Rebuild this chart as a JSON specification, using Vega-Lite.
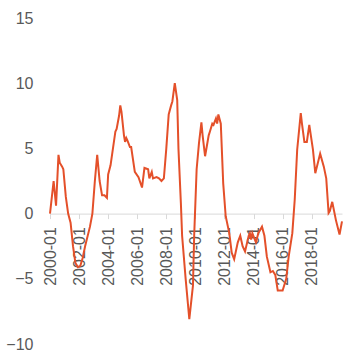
{
  "$schema": "https://vega.github.io/schema/vega-lite/v6.json",
  "autosize": {"type": "none"},
  "padding": {"left": 50, "top": 18, "right": 20, "bottom": 20},
  "width": 292,
  "height": 326,
  "background": "white",
  "config": {"view": {"stroke": null}, "font": "Liberation Sans"},
  "data": {"values": [
    {"date": "2000-01-01", "v": 0.0},
    {"date": "2000-04-01", "v": 2.5},
    {"date": "2000-06-01", "v": 0.6},
    {"date": "2000-08-01", "v": 4.5},
    {"date": "2000-09-01", "v": 3.9},
    {"date": "2000-11-01", "v": 3.6},
    {"date": "2000-12-01", "v": 3.4},
    {"date": "2001-02-01", "v": 1.3},
    {"date": "2001-04-01", "v": 0.0},
    {"date": "2001-06-01", "v": -0.7},
    {"date": "2001-08-01", "v": -2.5},
    {"date": "2001-10-01", "v": -3.8},
    {"date": "2001-12-01", "v": -4.1},
    {"date": "2002-02-01", "v": -4.0},
    {"date": "2002-04-01", "v": -3.4},
    {"date": "2002-06-01", "v": -2.5},
    {"date": "2002-10-01", "v": -1.0},
    {"date": "2002-12-01", "v": 0.0},
    {"date": "2003-02-01", "v": 2.5},
    {"date": "2003-04-01", "v": 4.5},
    {"date": "2003-06-01", "v": 2.5},
    {"date": "2003-08-01", "v": 1.4},
    {"date": "2003-10-01", "v": 1.4},
    {"date": "2003-12-01", "v": 1.2},
    {"date": "2004-01-01", "v": 3.0},
    {"date": "2004-03-01", "v": 3.7},
    {"date": "2004-05-01", "v": 5.0},
    {"date": "2004-07-01", "v": 6.3},
    {"date": "2004-08-01", "v": 6.5},
    {"date": "2004-10-01", "v": 7.5},
    {"date": "2004-11-01", "v": 8.3},
    {"date": "2004-12-01", "v": 7.8},
    {"date": "2005-02-01", "v": 6.0},
    {"date": "2005-03-01", "v": 5.5},
    {"date": "2005-04-01", "v": 5.8},
    {"date": "2005-05-01", "v": 5.6},
    {"date": "2005-07-01", "v": 5.1},
    {"date": "2005-08-01", "v": 5.1},
    {"date": "2005-11-01", "v": 3.2},
    {"date": "2006-02-01", "v": 2.8},
    {"date": "2006-05-01", "v": 2.0},
    {"date": "2006-07-01", "v": 3.5},
    {"date": "2006-10-01", "v": 3.4},
    {"date": "2006-11-01", "v": 2.7},
    {"date": "2007-01-01", "v": 3.2},
    {"date": "2007-02-01", "v": 2.7},
    {"date": "2007-05-01", "v": 2.8},
    {"date": "2007-07-01", "v": 2.7},
    {"date": "2007-09-01", "v": 2.5},
    {"date": "2007-11-01", "v": 2.7},
    {"date": "2008-01-01", "v": 5.0},
    {"date": "2008-03-01", "v": 7.6},
    {"date": "2008-05-01", "v": 8.3},
    {"date": "2008-06-01", "v": 8.6},
    {"date": "2008-08-01", "v": 10.0},
    {"date": "2008-10-01", "v": 8.7},
    {"date": "2008-11-01", "v": 5.0},
    {"date": "2009-01-01", "v": 0.8},
    {"date": "2009-02-01", "v": -1.7},
    {"date": "2009-05-01", "v": -5.0},
    {"date": "2009-08-01", "v": -8.1},
    {"date": "2009-11-01", "v": -5.5},
    {"date": "2009-12-01", "v": -1.7},
    {"date": "2010-02-01", "v": 3.4},
    {"date": "2010-04-01", "v": 5.4},
    {"date": "2010-06-01", "v": 7.0},
    {"date": "2010-07-01", "v": 6.0},
    {"date": "2010-09-01", "v": 4.4},
    {"date": "2010-12-01", "v": 6.0},
    {"date": "2011-01-01", "v": 6.3},
    {"date": "2011-03-01", "v": 6.9},
    {"date": "2011-04-01", "v": 6.8},
    {"date": "2011-06-01", "v": 7.3},
    {"date": "2011-07-01", "v": 6.9},
    {"date": "2011-08-01", "v": 7.6},
    {"date": "2011-10-01", "v": 6.9},
    {"date": "2011-12-01", "v": 2.3},
    {"date": "2012-02-01", "v": -0.2},
    {"date": "2012-05-01", "v": -1.5},
    {"date": "2012-07-01", "v": -3.0},
    {"date": "2012-09-01", "v": -3.5},
    {"date": "2012-12-01", "v": -2.2},
    {"date": "2013-02-01", "v": -1.7},
    {"date": "2013-04-01", "v": -2.5},
    {"date": "2013-06-01", "v": -2.9},
    {"date": "2013-09-01", "v": -1.7},
    {"date": "2013-10-01", "v": -1.5},
    {"date": "2013-11-01", "v": -2.0},
    {"date": "2013-12-01", "v": -1.5},
    {"date": "2014-03-01", "v": -2.2},
    {"date": "2014-05-01", "v": -1.5},
    {"date": "2014-08-01", "v": -1.0},
    {"date": "2014-10-01", "v": -1.7},
    {"date": "2014-12-01", "v": -3.3},
    {"date": "2015-03-01", "v": -4.5},
    {"date": "2015-05-01", "v": -4.4},
    {"date": "2015-07-01", "v": -4.7},
    {"date": "2015-09-01", "v": -5.9},
    {"date": "2016-01-01", "v": -5.9},
    {"date": "2016-04-01", "v": -5.0},
    {"date": "2016-06-01", "v": -3.3},
    {"date": "2016-09-01", "v": -1.5},
    {"date": "2016-11-01", "v": 1.1},
    {"date": "2017-01-01", "v": 4.9},
    {"date": "2017-04-01", "v": 7.7},
    {"date": "2017-05-01", "v": 6.9},
    {"date": "2017-07-01", "v": 5.5},
    {"date": "2017-09-01", "v": 5.5},
    {"date": "2017-11-01", "v": 6.8},
    {"date": "2018-02-01", "v": 4.9},
    {"date": "2018-04-01", "v": 3.1},
    {"date": "2018-08-01", "v": 4.6},
    {"date": "2018-11-01", "v": 3.6},
    {"date": "2019-01-01", "v": 2.7},
    {"date": "2019-03-01", "v": 0.05},
    {"date": "2019-04-01", "v": 0.2},
    {"date": "2019-06-01", "v": 0.9},
    {"date": "2019-09-01", "v": -0.5},
    {"date": "2019-12-01", "v": -1.6},
    {"date": "2020-02-01", "v": -0.6}
  ]},
  "mark": {"type": "line", "color": "#E4502A", "strokeWidth": 2, "clip": false},
  "encoding": {
    "x": {
      "field": "date",
      "type": "temporal",
      "scale": {"type": "utc", "domain": ["2000-01-01", "2020-02-01"], "nice": false},
      "axis": {
        "title": null,
        "orient": "bottom",
        "offset": -130.4,
        "values": [
          {"year": 2000, "month": 1, "date": 1, "utc": true},
          {"year": 2002, "month": 1, "date": 1, "utc": true},
          {"year": 2004, "month": 1, "date": 1, "utc": true},
          {"year": 2006, "month": 1, "date": 1, "utc": true},
          {"year": 2008, "month": 1, "date": 1, "utc": true},
          {"year": 2010, "month": 1, "date": 1, "utc": true},
          {"year": 2012, "month": 1, "date": 1, "utc": true},
          {"year": 2014, "month": 1, "date": 1, "utc": true},
          {"year": 2016, "month": 1, "date": 1, "utc": true},
          {"year": 2018, "month": 1, "date": 1, "utc": true}
        ],
        "format": "%Y-%m",
        "labelAngle": -90,
        "labelAlign": "right",
        "labelBaseline": "middle",
        "labelFontSize": 16,
        "labelColor": "#595959",
        "labelPadding": 8,
        "labelOverlap": false,
        "labelFlush": false,
        "grid": false,
        "domainColor": "#D9D9D9",
        "tickColor": "#D9D9D9",
        "tickSize": 5,
        "zindex": 0
      }
    },
    "y": {
      "field": "v",
      "type": "quantitative",
      "scale": {"domain": [-10, 15], "nice": false, "zero": false},
      "axis": {
        "title": null,
        "values": [-10, -5, 0, 5, 10, 15],
        "domain": false,
        "ticks": false,
        "grid": false,
        "labelFontSize": 16,
        "labelColor": "#595959",
        "labelPadding": 17,
        "labelFlush": false
      }
    }
  }
}
